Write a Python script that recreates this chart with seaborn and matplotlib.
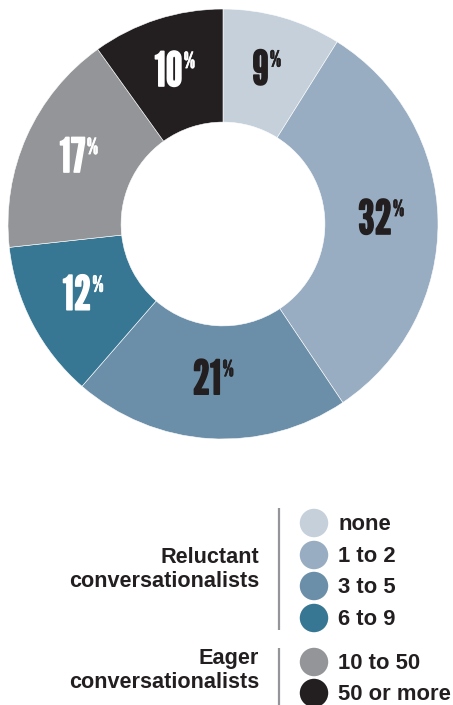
import matplotlib
matplotlib.use("Agg")
import matplotlib.pyplot as plt
import matplotlib.patheffects as pe
import seaborn as sns
import pandas as pd
import numpy as np
from matplotlib.offsetbox import TextArea, HPacker, AnnotationBbox

# Share of respondents by number of conversations
categories = ["none", "1 to 2", "3 to 5", "6 to 9", "10 to 50", "50 or more"]
shares = [9, 32, 21, 12, 17, 10]
colors = ["#c5d0db", "#98adc1", "#6b8fa8", "#377793", "#939598", "#231f20"]
label_colors = ["#231f20", "#231f20", "#231f20", "#ffffff", "#ffffff", "#ffffff"]
group_names = [["Reluctant", "conversationalists"], ["Eager", "conversationalists"]]

sns.set_theme(style="white")
plt.rcParams["font.family"] = ["Liberation Sans", "DejaVu Sans"]

W, H = 453, 705
fig = plt.figure(figsize=(W / 100, H / 100), dpi=100)
fig.patch.set_facecolor("white")

# Donut
cx, cy, R = 223, 224, 215
ax = fig.add_axes([(cx - R) / W, (H - cy - R) / H, 2 * R / W, 2 * R / H])
wedges, _ = ax.pie(shares, colors=colors, startangle=90, counterclock=False,
                   radius=1.0, wedgeprops=dict(width=0.526, edgecolor="white", linewidth=0.4))
ax.set_xlim(-1, 1)
ax.set_ylim(-1, 1)
ax.set_aspect("equal")
ax.axis("off")

num_font = ["League Gothic", "Oswald", "DejaVu Sans"]
total = sum(shares)
start = 90.0
for val, col in zip(shares, label_colors):
    span = val / total * 360
    mid = np.deg2rad(start - span / 2)
    start -= span
    r = 0.735
    x, y = r * np.cos(mid), r * np.sin(mid)
    bold = [pe.withStroke(linewidth=1.1, foreground=col)]
    t_num = TextArea(str(val), textprops=dict(color=col, fontsize=34, family=num_font,
                                               path_effects=bold))
    t_pct = TextArea("%", textprops=dict(color=col, fontsize=16, family=num_font,
                                          path_effects=[pe.withStroke(linewidth=0.5, foreground=col)]))
    box = HPacker(children=[t_num, t_pct], align="top", pad=0, sep=1)
    ab = AnnotationBbox(box, (x, y), frameon=False, box_alignment=(0.5, 0.5), pad=0)
    ax.add_artist(ab)

# Legend in pixel coordinates
lax = fig.add_axes([0, 0, 1, 1])
row_y = [523, 555, 586, 618, 662, 693]
leg = pd.DataFrame({"x": [314] * 6, "y": row_y, "cat": categories})
sns.scatterplot(data=leg, x="x", y="y", hue="cat", palette=dict(zip(categories, colors)),
                s=420, linewidth=0, legend=False, ax=lax)
lax.set_xlim(0, W)
lax.set_ylim(H, 0)
lax.axis("off")

dark = "#231f20"
for cat, yy in zip(categories, row_y):
    lax.text(338, yy + 7, cat, ha="left", va="baseline", fontsize=15.8, fontweight="bold",
             color=dark)

for lines, bases in zip(group_names, [(563, 587), (664, 688)]):
    for line, b in zip(lines, bases):
        lax.text(259, b, line, ha="right", va="baseline", fontsize=15.6, fontweight="bold",
                 color=dark)

lax.plot([279, 279], [508, 630], color="#939598", lw=1.6, solid_capstyle="butt")
lax.plot([279, 279], [648, 705], color="#939598", lw=1.6, solid_capstyle="butt")

fig.savefig("out.png", dpi=100, facecolor="white")
